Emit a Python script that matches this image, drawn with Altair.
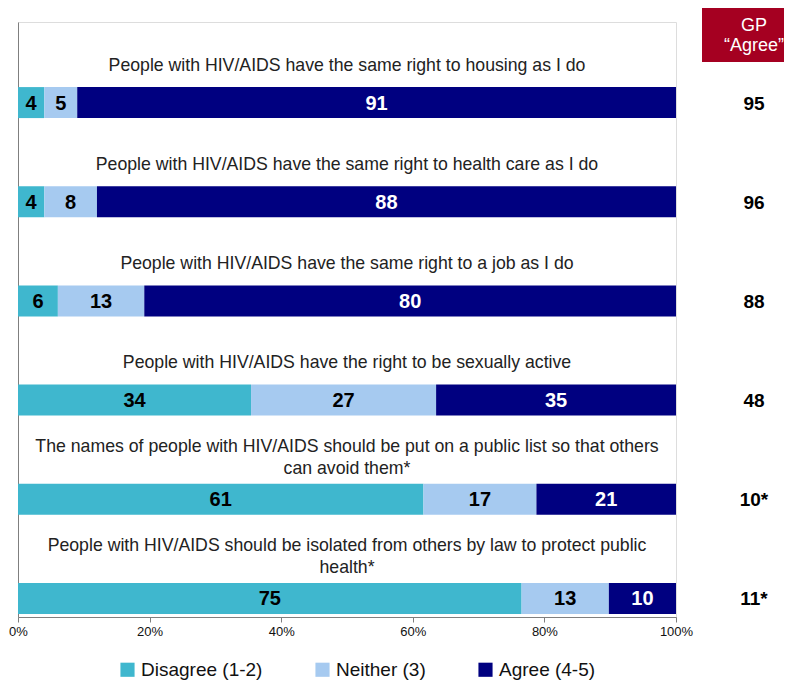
import altair as alt
import pandas as pd

questions = [
    "People with HIV/AIDS have the same right to housing as I do",
    "People with HIV/AIDS have the same right to health care as I do",
    "People with HIV/AIDS have the same right to a job as I do",
    "People with HIV/AIDS have the right to be sexually active",
    "The names of people with HIV/AIDS should be put on a public list so that others\ncan avoid them*",
    "People with HIV/AIDS should be isolated from others by law to protect public\nhealth*",
]
disagree = [4, 4, 6, 34, 61, 75]
neither = [5, 8, 13, 27, 17, 13]
agree = [91, 88, 80, 35, 21, 10]
gp_agree = ["95", "96", "88", "48", "10*", "11*"]
categories = ["Disagree (1-2)", "Neither (3)", "Agree (4-5)"]
colors = ["#3FB7CE", "#A6CAF0", "#000080"]
tick_values = [0, 0.2, 0.4, 0.6, 0.8, 1.0]
gp_header = "GP\n\u201cAgree\u201d"

FONT = "Liberation Sans"

rows = []
for i, q in enumerate(questions):
    for k, (cat, vals) in enumerate(zip(categories, [disagree, neither, agree])):
        rows.append({"qid": i, "question": q, "cat": cat, "order": k, "value": vals[i]})
long_df = pd.DataFrame(rows)
q_df = pd.DataFrame({"qid": list(range(len(questions))), "question": questions, "gp": gp_agree})

y_enc = alt.Y("qid:O", scale=alt.Scale(paddingInner=0, paddingOuter=0),
              axis=alt.Axis(labels=False, ticks=False, domain=True, domainColor="#7f7f7f",
                            grid=False, title=None))
x_scale = alt.Scale(domain=[0, 1])

BAR_OFF = 31
LINE_H = 22

bars = alt.Chart(long_df).mark_bar(size=31, yOffset=BAR_OFF).encode(
    y=y_enc,
    x=alt.X("value:Q", stack="normalize", scale=x_scale,
            axis=alt.Axis(values=tick_values, format=".0%", grid=False, title=None,
                          domainColor="#7f7f7f", tickColor="#7f7f7f", tickSize=5,
                          labelFontSize=13, labelColor="#111111", labelFont=FONT,
                          labelPadding=3, labelFlush=False)),
    color=alt.Color("cat:N", scale=alt.Scale(domain=categories, range=colors),
                    legend=alt.Legend(orient="none", legendX=100, legendY=638,
                                      direction="horizontal", title=None,
                                      symbolType="square", symbolSize=200,
                                      symbolStrokeWidth=0, labelFontSize=19,
                                      labelFont=FONT, labelColor="#111111",
                                      columnPadding=50, labelLimit=300)),
    order=alt.Order("order:Q"),
)

labels = alt.Chart(long_df).transform_joinaggregate(
    total="sum(value)", groupby=["qid"]
).transform_window(
    cum="sum(value)", sort=[alt.SortField("order")], groupby=["qid"],
    frame=[None, 0]
).transform_calculate(
    mid="(datum.cum - datum.value / 2) / datum.total"
).mark_text(yOffset=BAR_OFF + 1, fontSize=20, fontWeight="bold", font=FONT,
            baseline="middle", align="center").encode(
    y=alt.Y("qid:O"),
    x=alt.X("mid:Q", scale=x_scale),
    text=alt.Text("value:Q"),
    color=alt.condition(alt.datum.cat == "Agree (4-5)", alt.value("white"), alt.value("black")),
)

title_style = dict(baseline="alphabetic", align="center", lineBreak="\n",
                   fontSize=17.7, font=FONT, color="#222222", lineHeight=LINE_H)

titles_single = alt.Chart(q_df).transform_filter(
    "indexof(datum.question, '\\n') < 0"
).mark_text(yOffset=-1, **title_style).encode(
    y=alt.Y("qid:O"),
    x=alt.datum(0.5),
    text="question:N",
)

titles_double = alt.Chart(q_df).transform_filter(
    "indexof(datum.question, '\\n') >= 0"
).mark_text(yOffset=6 - LINE_H, **title_style).encode(
    y=alt.Y("qid:O"),
    x=alt.datum(0.5),
    text="question:N",
)

gp_text = alt.Chart(q_df).mark_text(
    yOffset=BAR_OFF + 1, baseline="middle", align="center", fontSize=19,
    fontWeight="bold", font=FONT, color="black"
).encode(
    y=alt.Y("qid:O"),
    x=alt.datum(1.1185),
    text="gp:N",
)

hdr_df = pd.DataFrame({"label": [gp_header]})
hdr_box = alt.Chart(hdr_df).mark_rect(color="#A50021").encode(
    x=alt.value(684), x2=alt.value(766), y=alt.value(-14), y2=alt.value(40)
)
hdr_text = alt.Chart(hdr_df).mark_text(
    color="white", fontSize=18, font=FONT, align="center", baseline="alphabetic",
    lineBreak="\n", lineHeight=20
).encode(x=alt.value(736), y=alt.value(9), text="label:N")

chart = alt.layer(bars, labels, titles_single, titles_double, gp_text, hdr_box, hdr_text).properties(
    width=658, height=595,
    autosize=alt.AutoSizeParams(type="none"),
    padding={"left": 10, "top": 14, "right": 108, "bottom": 65},
).configure_view(stroke=None).configure(font=FONT)

chart.save("out.html", embed_options={"renderer": "svg", "actions": False})
